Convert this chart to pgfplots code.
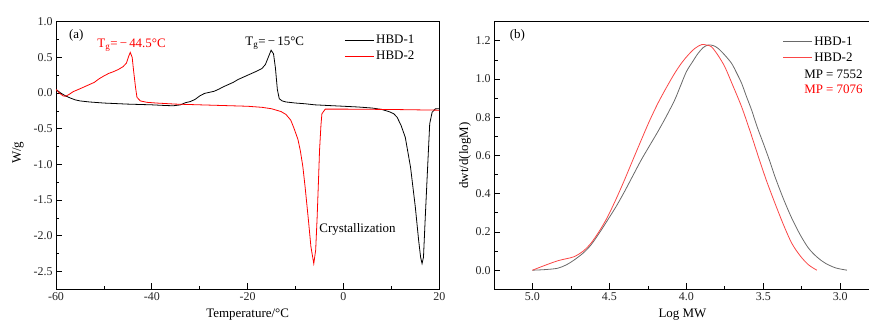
\documentclass[border=0pt]{standalone}
\usepackage{pgfplots}
\pgfplotsset{compat=1.18}
\usepackage{fontspec}
\setmainfont{Liberation Serif}
\definecolor{dgray}{RGB}{105,105,105}
\definecolor{lred}{RGB}{250,70,70}
\pgfplotsset{
  myaxis/.style={
    scale only axis,
    axis line style={black, line width=0.8pt},
    tick align=inside,
    xtick pos=bottom, ytick pos=left,
    major tick length=6bp, minor tick length=3.5bp,
    every tick/.style={black, line width=0.7pt},
    tick label style={font=\fontsize{12}{14}\selectfont, text=black!85},
    label style={font=\fontsize{13}{15}\selectfont},
    /pgf/number format/assume math mode=true,
    minor x tick num=1, minor y tick num=1,
    legend style={draw=none, fill=none, font=\fontsize{13}{15}\selectfont, inner sep=0pt, row sep=2pt, cells={anchor=west}},
    legend image code/.code={\draw[#1] (0bp,0bp) -- (29bp,0bp);},
    clip=true,
  }
}
\begin{document}
\begin{tikzpicture}
\useasboundingbox (0bp,0bp) rectangle (869bp,320bp);
% ---------------- (a) DSC ----------------
\begin{axis}[myaxis,
  at={(56bp,30.7bp)}, anchor=south west,
  width=383.3bp, height=267.6bp,
  xmin=-60, xmax=20, ymin=-2.75, ymax=1.0,
  xtick={-60,-40,-20,0,20},
  ytick={-2.5,-2.0,-1.5,-1.0,-0.5,0.0,0.5,1.0},
  yticklabel style={/pgf/number format/.cd, fixed, fixed zerofill, precision=1},
  xlabel={Temperature/°C}, ylabel={W/g},
  xlabel style={at={(axis description cs:0.5,0)}, anchor=north, yshift=-16bp},
  ylabel style={at={(axis description cs:-0.0991,0.51)}, anchor=center},
  legend style={at={(axis description cs:0.752,0.958)}, anchor=north west},
]
\addplot[black, line width=0.8pt] coordinates {
(-60,0.05)(-59,0.0)(-58,-0.04)(-57,-0.07)(-56,-0.095)(-55,-0.11)(-53,-0.125)(-50,-0.14)(-45,-0.155)(-40,-0.165)(-37,-0.175)(-35.5,-0.178)(-34,-0.165)(-33,-0.135)(-32,-0.12)(-31,-0.09)(-30,-0.04)(-29,-0.005)(-28,0.01)(-27,0.025)(-26,0.055)(-25,0.09)(-24,0.12)(-23,0.15)(-22,0.19)(-21,0.22)(-20,0.25)(-19,0.28)(-18,0.31)(-17,0.345)(-16.3,0.40)(-15.7,0.50)(-15.1,0.60)(-14.6,0.55)(-14.2,0.35)(-13.8,0.05)(-13.4,-0.08)(-12.8,-0.11)(-12,-0.125)(-10,-0.14)(-8,-0.15)(-6,-0.165)(-3,-0.175)(0,-0.185)(3,-0.195)(6,-0.21)(8,-0.23)(9.5,-0.26)(10.5,-0.29)(11.2,-0.34)(12,-0.45)(12.9,-0.62)(14.0,-1.04)(15.0,-1.6)(15.7,-2.07)(16.1,-2.3)(16.4,-2.39)(16.7,-2.3)(17.1,-1.7)(17.6,-0.99)(18.0,-0.43)(18.5,-0.27)(19.2,-0.22)(20,-0.22)
};
\addlegendentry{HBD-1}
\addplot[red, line width=0.8pt] coordinates {
(-60,0.05)(-59.3,0.0)(-58.5,-0.04)(-58,-0.045)(-57.3,-0.02)(-56.4,0.02)(-55,0.06)(-53,0.12)(-52,0.15)(-51,0.2)(-50,0.24)(-49,0.275)(-48,0.30)(-47,0.33)(-46,0.37)(-45.3,0.42)(-44.8,0.52)(-44.5,0.57)(-44.1,0.50)(-43.8,0.31)(-43.4,0.08)(-43.1,-0.06)(-42.4,-0.11)(-41,-0.13)(-39,-0.14)(-35,-0.155)(-30,-0.165)(-25,-0.175)(-20,-0.185)(-17,-0.2)(-15,-0.22)(-13,-0.26)(-12,-0.3)(-11,-0.38)(-10.4,-0.48)(-9.5,-0.65)(-9.0,-0.81)(-8.5,-1.02)(-8.0,-1.32)(-7.3,-1.79)(-6.8,-2.15)(-6.2,-2.39)(-5.8,-2.2)(-5.5,-1.75)(-5.2,-1.2)(-5.0,-0.81)(-4.7,-0.45)(-4.5,-0.29)(-3.8,-0.225)(0,-0.225)(10,-0.23)(20,-0.24)
};
\addlegendentry{HBD-2}
\node[anchor=west, font=\fontsize{13}{15}\selectfont, inner sep=0pt] at (axis cs:-57.3,0.814) {(a)};
\node[anchor=base west, font=\fontsize{13}{15}\selectfont, text=red, inner sep=0pt] at (axis cs:-51.4,0.64) {T\textsubscript{g}=\,−\,44.5°C};
\node[anchor=base west, font=\fontsize{13}{15}\selectfont, inner sep=0pt] at (axis cs:-20.5,0.67) {T\textsubscript{g}=\,−\,15°C};
\node[anchor=west, font=\fontsize{13}{15}\selectfont, inner sep=0pt] at (axis cs:-5.06,-1.91) {Crystallization};
\end{axis}
% ---------------- (b) GPC ----------------
\begin{axis}[myaxis,
  at={(494bp,30.7bp)}, anchor=south west,
  width=377bp, height=267.6bp,
  x dir=reverse,
  xmin=2.8, xmax=5.25, ymin=-0.1, ymax=1.3,
  xtick={3.0,3.5,4.0,4.5,5.0},
  ytick={0.0,0.2,0.4,0.6,0.8,1.0,1.2},
  xticklabel style={/pgf/number format/.cd, fixed, fixed zerofill, precision=1},
  yticklabel style={/pgf/number format/.cd, fixed, fixed zerofill, precision=1},
  xlabel={Log MW}, ylabel={dwt/d(logM)},
  xlabel style={at={(axis description cs:0.5,0)}, anchor=north, yshift=-16bp},
  ylabel style={at={(axis description cs:-0.0769,0.5)}, anchor=center},
  legend style={at={(axis description cs:0.765,0.952)}, anchor=north west},
]
\addplot[dgray, line width=0.8pt, smooth] coordinates {
(5.0,0)(4.92,0.003)(4.837,0.01)(4.78,0.028)(4.728,0.054)(4.67,0.09)(4.62,0.132)(4.565,0.195)(4.511,0.263)(4.455,0.335)(4.402,0.411)(4.347,0.495)(4.293,0.577)(4.24,0.65)(4.185,0.725)(4.13,0.805)(4.076,0.89)(4.04,0.96)(4.0,1.038)(3.96,1.09)(3.924,1.134)(3.89,1.165)(3.858,1.178)(3.825,1.175)(3.793,1.16)(3.75,1.125)(3.706,1.082)(3.675,1.035)(3.641,0.978)(3.61,0.91)(3.576,0.838)(3.54,0.75)(3.5,0.664)(3.46,0.575)(3.424,0.489)(3.37,0.375)(3.315,0.272)(3.26,0.185)(3.206,0.115)(3.15,0.068)(3.098,0.037)(3.03,0.012)(2.956,0.0)
};
\addlegendentry{HBD-1}
\addplot[lred, line width=0.8pt, smooth] coordinates {
(5.0,0)(4.92,0.025)(4.837,0.049)(4.78,0.06)(4.728,0.071)(4.67,0.1)(4.62,0.141)(4.565,0.205)(4.511,0.28)(4.455,0.375)(4.402,0.472)(4.347,0.578)(4.293,0.681)(4.24,0.78)(4.185,0.873)(4.13,0.955)(4.076,1.03)(4.03,1.085)(3.989,1.125)(3.945,1.16)(3.902,1.18)(3.87,1.178)(3.837,1.169)(3.795,1.125)(3.75,1.064)(3.7,0.97)(3.641,0.855)(3.585,0.725)(3.532,0.594)(3.48,0.47)(3.424,0.35)(3.37,0.24)(3.315,0.141)(3.26,0.075)(3.206,0.028)(3.152,0.0)
};
\addlegendentry{HBD-2}
\node[anchor=west, font=\fontsize{13}{15}\selectfont, inner sep=0pt] at (axis cs:5.148,1.23) {(b)};
\node[anchor=west, font=\fontsize{13}{15}\selectfont, inner sep=0pt] at (axis cs:3.235,1.027) {MP = 7552};
\node[anchor=west, font=\fontsize{13}{15}\selectfont, inner sep=0pt, text=red] at (axis cs:3.235,0.946) {MP = 7076};
\end{axis}
\end{tikzpicture}
\end{document}
